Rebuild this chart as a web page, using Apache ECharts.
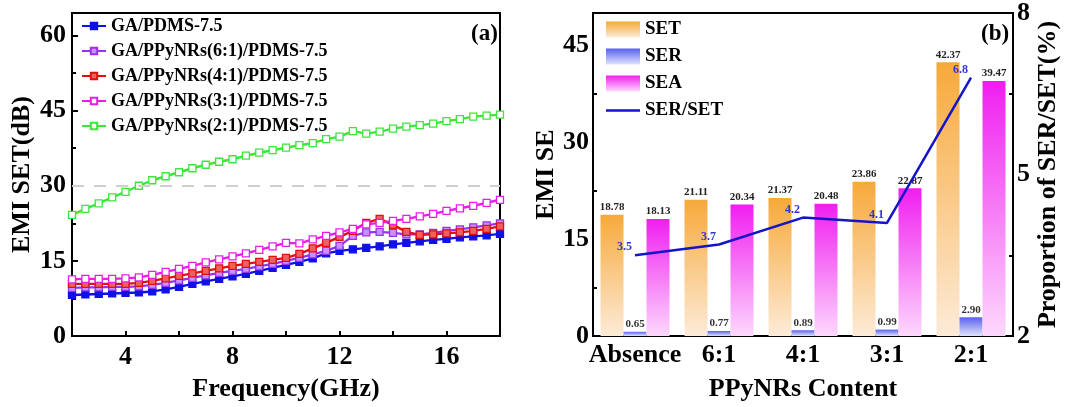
<!DOCTYPE html>
<html>
<head>
<meta charset="utf-8">
<script src="https://cdn.jsdelivr.net/npm/echarts@6/dist/echarts.min.js"></script>
<style>
  html, body { margin: 0; padding: 0; background: #fff; }
  #chart { width: 1088px; height: 407px; }
</style>
</head>
<body>
<div id="chart"></div>
<script>
// ---- panel (a): EMI SET vs frequency ----
const freq = [2, 2.5, 3, 3.5, 4, 4.5, 5, 5.5, 6, 6.5, 7, 7.5, 8, 8.5, 9, 9.5, 10,
  10.5, 11, 11.5, 12, 12.5, 13, 13.5, 14, 14.5, 15, 15.5, 16, 16.5, 17, 17.5, 18];

const gaPdms = [8.2, 8.3, 8.4, 8.5, 8.6, 8.7, 8.9, 9.3, 9.8, 10.4, 10.9, 11.4, 11.9, 12.4, 13.0, 13.6, 14.2,
  14.8, 15.5, 16.5, 17.0, 17.3, 17.6, 17.9, 18.3, 18.6, 18.9, 19.2, 19.4, 19.7, 19.9, 20.1, 20.4];
const ppy61 = [9.6, 9.7, 9.7, 9.8, 9.8, 9.9, 10.2, 10.6, 11.1, 11.6, 12.1, 12.6, 13.0, 13.4, 13.9, 14.4, 15.0,
  15.6, 16.3, 17.0, 18.0, 20.0, 20.7, 20.8, 20.6, 20.3, 20.3, 20.6, 21.0, 21.3, 21.7, 22.1, 22.5];
const ppy41 = [10.4, 10.4, 10.4, 10.4, 10.4, 10.6, 11.0, 11.5, 12.0, 12.5, 13.0, 13.5, 14.0, 14.4, 14.8, 15.2, 15.6,
  16.4, 17.5, 18.6, 19.8, 21.0, 22.6, 23.4, 22.2, 20.8, 20.2, 20.3, 20.5, 20.7, 21.0, 21.4, 21.9];
const ppy31 = [11.3, 11.4, 11.4, 11.4, 11.5, 11.7, 12.2, 12.8, 13.4, 14.0, 14.7, 15.3, 15.9, 16.5, 17.2, 17.9, 18.6,
  18.5, 19.3, 20.0, 20.7, 21.4, 22.3, 22.6, 23.0, 23.4, 23.9, 24.4, 25.0, 25.5, 26.0, 26.6, 27.2];
const ppy21 = [24.2, 25.4, 26.5, 27.7, 28.8, 30.0, 31.1, 31.9, 32.7, 33.5, 34.2, 34.8, 35.3, 36.0, 36.6, 37.1, 37.6,
  38.1, 38.5, 39.3, 39.8, 40.9, 40.4, 40.8, 41.4, 41.8, 42.1, 42.4, 42.9, 43.3, 43.8, 44.0, 44.2];
const refLevel = 30;

// ---- panel (b): SE breakdown per PPyNRs content ----
const contents = ['Absence', '6:1', '4:1', '3:1', '2:1'];
const seT = [18.78, 21.11, 21.37, 23.86, 42.37];
const seR = [0.65, 0.77, 0.89, 0.99, 2.90];
const seA = [18.13, 20.34, 20.48, 22.87, 39.47];
const serRatio = [3.5, 3.7, 4.2, 4.1, 6.8];

const serif = "'Liberation Serif', 'Times New Roman', serif";
const pair = (xs, ys) => xs.map((x, i) => [x, ys[i]]);
const grad = (top, bottom) => new echarts.graphic.LinearGradient(0, 0, 0, 1, [
  { offset: 0, color: top }, { offset: 1, color: bottom }
]);

const axisText = { fontFamily: serif, fontWeight: 'bold', fontSize: 26, color: '#000' };
const blackLine = { show: true, lineStyle: { color: '#000', width: 2 } };
const barLabel = { show: true, position: 'top', distance: 2, fontFamily: serif, fontWeight: 'bold',
  fontSize: 11, color: '#222', formatter: p => p.value.toFixed(2) };

const lineSeries = (name, data, color, fill) => ({
  name, type: 'line', xAxisIndex: 0, yAxisIndex: 0,
  data, symbol: 'rect', symbolSize: 7,
  itemStyle: { color: fill, borderColor: color, borderWidth: 1.3 },
  lineStyle: { color, width: 2.4 },
  emphasis: { disabled: true }
});

const chart = echarts.init(document.getElementById('chart'));

chart.setOption({
  animation: false,
  title: [
    { text: '(a)', left: 466, top: 18, textStyle: { fontFamily: serif, fontWeight: 'bold', fontSize: 23, color: '#000' } },
    { text: '(b)', left: 976, top: 18, textStyle: { fontFamily: serif, fontWeight: 'bold', fontSize: 23, color: '#000' } }
  ],
  legend: [
    {
      data: ['GA/PDMS-7.5', 'GA/PPyNRs(6:1)/PDMS-7.5', 'GA/PPyNRs(4:1)/PDMS-7.5',
             'GA/PPyNRs(3:1)/PDMS-7.5', 'GA/PPyNRs(2:1)/PDMS-7.5'],
      orient: 'vertical', left: 76, top: 12, itemGap: 7, itemWidth: 24, itemHeight: 8,
      textStyle: { fontFamily: serif, fontWeight: 'bold', fontSize: 18, color: '#000' }
    },
    {
      data: [
        { name: 'SET', icon: 'rect' }, { name: 'SER', icon: 'rect' },
        { name: 'SEA', icon: 'rect' }, { name: 'SER/SET', icon: 'path://M0,0H34V2.4H0Z' }
      ],
      orient: 'vertical', left: 601, top: 15, itemGap: 8, itemWidth: 34, itemHeight: 16,
      textStyle: { fontFamily: serif, fontWeight: 'bold', fontSize: 19, color: '#000' }
    }
  ],
  grid: [
    { left: 72, right: 588, top: 13, bottom: 65, show: true, borderColor: '#000', borderWidth: 2 },
    { left: 593, right: 75, top: 13, bottom: 64, show: true, borderColor: '#000', borderWidth: 2 }
  ],
  xAxis: [
    {
      gridIndex: 0, type: 'value', min: 2, max: 18, interval: 2,
      name: 'Frequency(GHz)', nameLocation: 'middle', nameGap: 40, nameTextStyle: axisText,
      axisLine: blackLine,
      axisTick: { inside: true, length: 5, lineStyle: { color: '#000', width: 2 } },
      axisLabel: { ...axisText, margin: 8, formatter: v => (v % 4 === 0 ? v : '') },
      splitLine: { show: false }
    },
    {
      gridIndex: 1, type: 'category', data: contents,
      name: 'PPyNRs Content', nameLocation: 'middle', nameGap: 40, nameTextStyle: axisText,
      axisLine: blackLine, axisTick: { show: false },
      axisLabel: { ...axisText, margin: 6, interval: 0 }
    }
  ],
  yAxis: [
    {
      gridIndex: 0, type: 'value', min: 0, max: 64.5, interval: 15,
      name: 'EMI SET(dB)', nameLocation: 'middle', nameGap: 37, nameTextStyle: axisText,
      axisLine: blackLine,
      axisTick: { inside: true, length: 6, lineStyle: { color: '#000', width: 2 } },
      minorTick: { show: true, splitNumber: 2, length: 4, lineStyle: { color: '#000', width: 2 } },
      axisLabel: { ...axisText, margin: 6, showMaxLabel: false },
      splitLine: { show: false }
    },
    {
      gridIndex: 1, type: 'value', min: 0, max: 50, interval: 15,
      name: 'EMI SE', nameLocation: 'middle', nameGap: 19, nameTextStyle: axisText,
      axisLine: blackLine,
      axisTick: { inside: true, length: 6, lineStyle: { color: '#000', width: 2 } },
      minorTick: { show: true, splitNumber: 2, length: 4, lineStyle: { color: '#000', width: 2 } },
      axisLabel: { ...axisText, margin: 4, showMaxLabel: false },
      splitLine: { show: false }
    },
    {
      gridIndex: 1, type: 'value', position: 'right', min: 2, max: 8, interval: 3,
      name: 'Proportion of SER/SET(%)', nameLocation: 'middle', nameRotate: 90, nameGap: 22,
      nameTextStyle: axisText,
      axisLine: blackLine,
      axisTick: { inside: true, length: 6, lineStyle: { color: '#000', width: 2 } },
      minorTick: { show: true, splitNumber: 2, length: 4, lineStyle: { color: '#000', width: 2 } },
      axisLabel: { ...axisText, margin: 4 },
      splitLine: { show: false }
    }
  ],
  series: [
    lineSeries('GA/PDMS-7.5', pair(freq, gaPdms), '#1010e8', '#1010e8'),
    lineSeries('GA/PPyNRs(6:1)/PDMS-7.5', pair(freq, ppy61), '#9a30f0', '#c890ff'),
    lineSeries('GA/PPyNRs(4:1)/PDMS-7.5', pair(freq, ppy41), '#e01010', '#f06060'),
    lineSeries('GA/PPyNRs(3:1)/PDMS-7.5', pair(freq, ppy31), '#e81ee8', '#ffffff'),
    {
      ...lineSeries('GA/PPyNRs(2:1)/PDMS-7.5', pair(freq, ppy21), '#3ce63c', '#ffffff'),
      markLine: {
        silent: true, symbol: 'none', label: { show: false },
        lineStyle: { color: '#cfcfcf', type: [12, 10], width: 2 },
        data: [{ yAxis: refLevel }]
      }
    },
    {
      name: 'SET', type: 'bar', xAxisIndex: 1, yAxisIndex: 1, data: seT,
      barWidth: 23, barGap: '0%',
      itemStyle: { color: grad('#f7a93a', '#fdebd8') },
      label: barLabel
    },
    {
      name: 'SER', type: 'bar', xAxisIndex: 1, yAxisIndex: 1, data: seR,
      barWidth: 23, barGap: '0%',
      itemStyle: { color: grad('#5862ec', '#dfe2fb') },
      label: { ...barLabel, color: '#333' }
    },
    {
      name: 'SEA', type: 'bar', xAxisIndex: 1, yAxisIndex: 1, data: seA,
      barWidth: 23, barGap: '0%',
      itemStyle: { color: grad('#f01ef0', '#fdd8fd') },
      label: barLabel
    },
    {
      name: 'SER/SET', type: 'line', xAxisIndex: 1, yAxisIndex: 2, data: serRatio,
      symbol: 'circle', symbolSize: 0.1, showSymbol: true, z: 5,
      lineStyle: { color: '#1414c8', width: 2.5 },
      itemStyle: { color: '#1414c8' },
      label: { show: true, position: 'left', distance: 3, offset: [0, -8], fontFamily: serif,
        fontWeight: 'bold', fontSize: 12, color: '#3434d0' }
    }
  ]
});
</script>
</body>
</html>
